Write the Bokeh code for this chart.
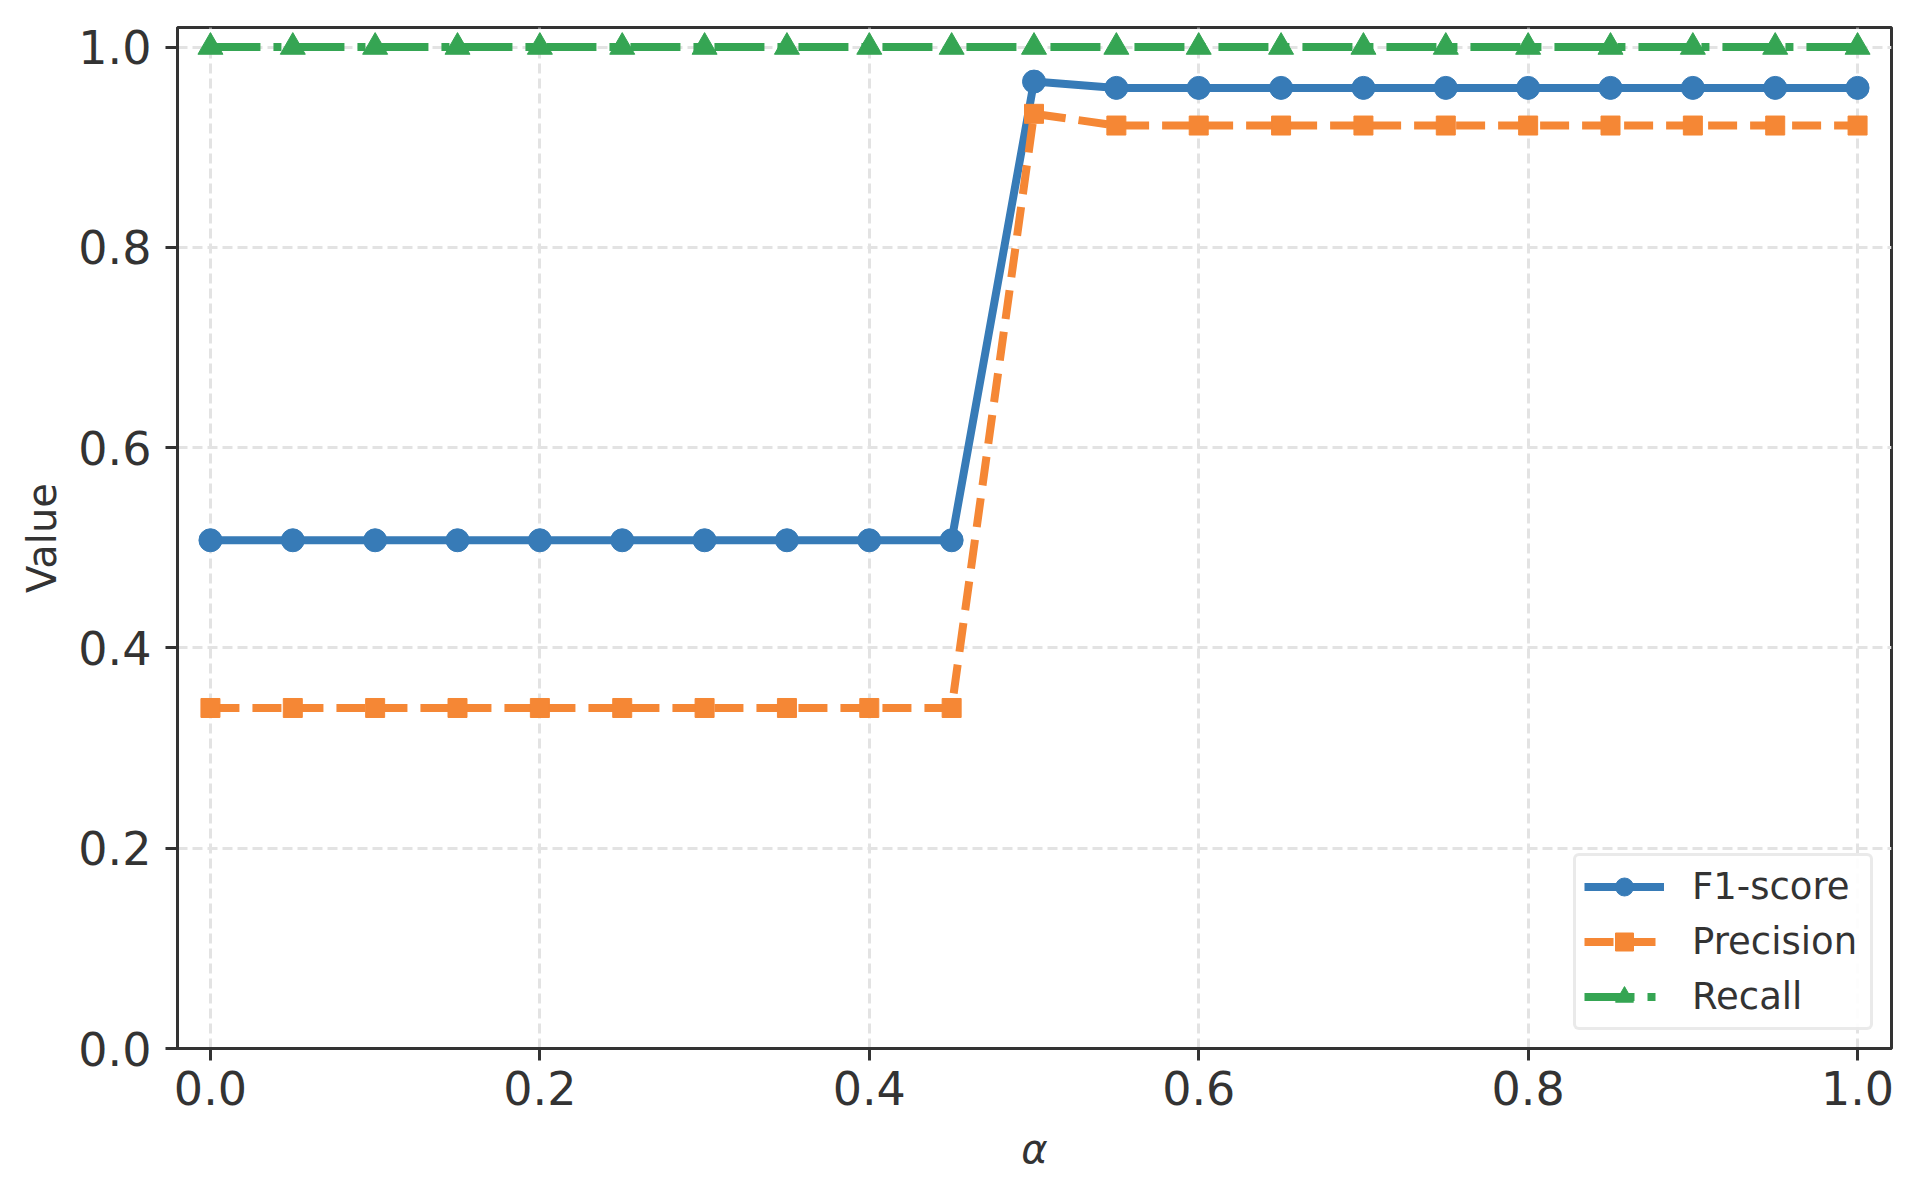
from bokeh.plotting import figure
from bokeh.models import FixedTicker, PrintfTickFormatter, Legend, LegendItem, Range1d
from bokeh.embed import file_html
from bokeh.resources import INLINE

alpha = [0.0, 0.05, 0.1, 0.15, 0.2, 0.25, 0.3, 0.35, 0.4, 0.45, 0.5,
         0.55, 0.6, 0.65, 0.7, 0.75, 0.8, 0.85, 0.9, 0.95, 1.0]
f1_score = [0.5075, 0.5075, 0.5075, 0.5075, 0.5075, 0.5075, 0.5075, 0.5075, 0.5075, 0.5075,
            0.9655, 0.9592, 0.9592, 0.9592, 0.9592, 0.9592, 0.9592, 0.9592, 0.9592, 0.9592, 0.9592]
precision = [0.34, 0.34, 0.34, 0.34, 0.34, 0.34, 0.34, 0.34, 0.34, 0.34,
             0.9333, 0.9216, 0.9216, 0.9216, 0.9216, 0.9216, 0.9216, 0.9216, 0.9216, 0.9216, 0.9216]
recall = [1.0, 1.0, 1.0, 1.0, 1.0, 1.0, 1.0, 1.0, 1.0, 1.0,
          1.0, 1.0, 1.0, 1.0, 1.0, 1.0, 1.0, 1.0, 1.0, 1.0, 1.0]
x_ticks = [0.0, 0.2, 0.4, 0.6, 0.8, 1.0]
y_ticks = [0.0, 0.2, 0.4, 0.6, 0.8, 1.0]
series_names = ["F1-score", "Precision", "Recall"]

FONT = "DejaVu Sans"
TXT = "#333333"
BLUE = "#377bb7"
ORANGE = "#f58735"
GREEN = "#35a553"

p = figure(output_backend="svg", toolbar_location=None,
           frame_width=1714, frame_height=1021,
           min_border_left=177, min_border_top=27, min_border_right=21, min_border_bottom=130,
           x_range=Range1d(-0.02, 1.0206), y_range=Range1d(0.0, 1.0195))

p.outline_line_color = TXT
p.outline_line_width = 3
p.background_fill_color = "white"
p.border_fill_color = "white"

for ax in (p.xaxis[0], p.yaxis[0]):
    ax.axis_line_color = TXT
    ax.axis_line_width = 3
    ax.major_tick_line_color = TXT
    ax.major_tick_line_width = 3
    ax.major_tick_out = 12
    ax.major_tick_in = 0
    ax.minor_tick_line_color = None
    ax.major_label_text_font = FONT
    ax.major_label_text_font_size = "46px"
    ax.major_label_text_color = TXT
    ax.axis_label_text_font = FONT
    ax.axis_label_text_font_size = "40px"
    ax.axis_label_text_color = TXT
    ax.axis_label_text_font_style = "normal"
    ax.formatter = PrintfTickFormatter(format="%.1f")

p.xaxis[0].ticker = FixedTicker(ticks=x_ticks)
p.yaxis[0].ticker = FixedTicker(ticks=y_ticks)
p.xaxis[0].axis_label = "α"
p.xaxis[0].axis_label_text_font_style = "italic"
p.yaxis[0].axis_label = "Value"
p.xaxis[0].major_label_standoff = 10
p.yaxis[0].major_label_standoff = 14
p.xaxis[0].axis_label_standoff = 18
p.yaxis[0].axis_label_standoff = 10

for g in (p.xgrid[0], p.ygrid[0]):
    g.grid_line_color = "#e3e3e3"
    g.grid_line_width = 3
    g.grid_line_dash = "10 5"
p.xgrid[0].ticker = FixedTicker(ticks=x_ticks)
p.ygrid[0].ticker = FixedTicker(ticks=y_ticks)

lw = 8
l1 = p.line(alpha, f1_score, line_color=BLUE, line_width=lw)
m1 = p.scatter(alpha, f1_score, marker="circle", size=23, fill_color=BLUE, line_color=BLUE, line_width=1)
l2 = p.line(alpha, precision, line_color=ORANGE, line_width=lw, line_dash="29 13")
m2 = p.scatter(alpha, precision, marker="square", size=19, fill_color=ORANGE, line_color=ORANGE, line_width=1)
l3 = p.line(alpha, recall, line_color=GREEN, line_width=lw, line_dash="50 13 8 13")
m3 = p.scatter(alpha, recall, marker="triangle", size=25, fill_color=GREEN, line_color=GREEN, line_width=1)

legend = Legend(items=[
    LegendItem(label=series_names[0], renderers=[l1, m1]),
    LegendItem(label=series_names[1], renderers=[l2, m2]),
    LegendItem(label=series_names[2], renderers=[l3, m3]),
], location="bottom_right")
legend.label_text_font = FONT
legend.label_text_font_size = "37px"
legend.label_text_color = TXT
legend.border_line_color = "#d6d6d6"
legend.border_line_width = 3
legend.background_fill_color = "white"
legend.background_fill_alpha = 0.9
legend.glyph_width = 80
legend.glyph_height = 45
legend.label_height = 45
legend.label_width = 170
legend.label_standoff = 28
legend.spacing = 10
legend.padding = 8
legend.margin = 18
if "border_radius" in legend.properties():
    legend.border_radius = 6
p.add_layout(legend)

open("out.html", "w").write(file_html(p, INLINE))
